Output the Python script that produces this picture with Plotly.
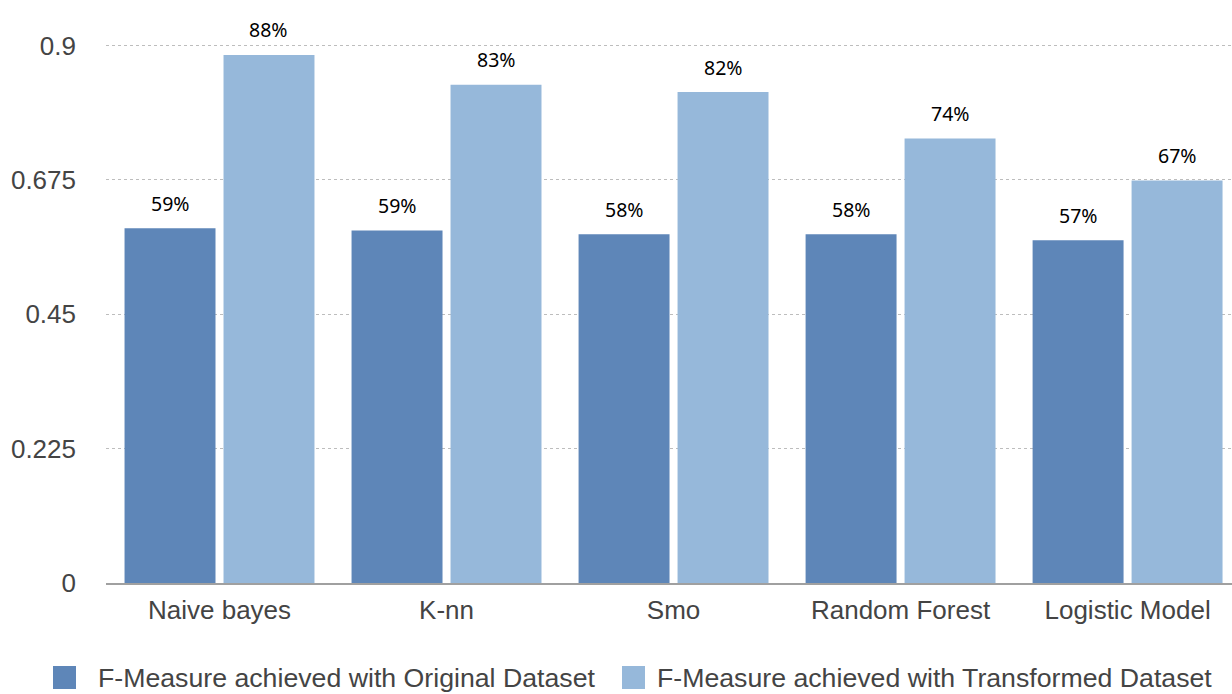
import plotly.graph_objects as go

# F-measure per classifier, original vs transformed dataset
classifiers = ["Naive bayes", "K-nn", "Smo", "Random Forest", "Logistic Model"]
f_original = [0.594, 0.590, 0.584, 0.584, 0.574]
f_transformed = [0.884, 0.834, 0.822, 0.744, 0.674]

series_names = [
    "F-Measure achieved with Original Dataset",
    "F-Measure achieved with Transformed Dataset",
]
y_ticks = [0, 0.225, 0.45, 0.675, 0.9]
y_tick_text = ["0", "0.225", "0.45", "0.675", "0.9"]

C_ORIG = "#5E86B8"
C_TRANS = "#96B8DA"
TEXT_GREY = "#444444"
FONT = "Liberation Sans, Arial, sans-serif"
LABEL_FONT = "Noto Sans, Open Sans, sans-serif"

W, H = 1232, 694
M_L, M_R, M_T, M_B = 106, 0, 0, 111
plot_w = W - M_L - M_R
plot_h = H - M_T - M_B

fig = go.Figure()
fig.add_trace(go.Bar(x=classifiers, y=f_original, name=series_names[0],
                     marker=dict(color=C_ORIG, line=dict(width=0)),
                     showlegend=False))
fig.add_trace(go.Bar(x=classifiers, y=f_transformed, name=series_names[1],
                     marker=dict(color=C_TRANS, line=dict(width=0)),
                     showlegend=False))

# value labels above each bar, shifted horizontally to the bar inside its group
x_range = [-0.5, 4.46]
px_per_cat = plot_w / (x_range[1] - x_range[0])
bargap = 0.128
bargroupgap = 0.081
slot = px_per_cat * (1 - bargap) / 2
annotations = []
for series, shift in ((f_original, -slot / 2), (f_transformed, slot / 2)):
    for cat, v in zip(classifiers, series):
        annotations.append(dict(
            x=cat, y=v, xref="x", yref="y", text=f"{round(v * 100)}%",
            showarrow=False, xshift=shift, yshift=25, yanchor="middle",
            font=dict(family=LABEL_FONT, size=19.5, color="#000000"),
        ))

# legend drawn as swatches + text beneath the plot
def px_to_paper_x(px):
    return (px - M_L) / plot_w

def py_to_paper_y(py):
    return (H - M_B - py) / plot_h

shapes = []
legend_items = [(53, 96, C_ORIG, series_names[0]), (622, 655, C_TRANS, series_names[1])]
for sx, tx, col, label in legend_items:
    shapes.append(dict(type="rect", xref="paper", yref="paper",
                       x0=px_to_paper_x(sx), x1=px_to_paper_x(sx + 23),
                       y0=py_to_paper_y(689), y1=py_to_paper_y(666),
                       fillcolor=col, line=dict(width=0)))
    annotations.append(dict(x=px_to_paper_x(tx), y=py_to_paper_y(677.5),
                            xref="paper", yref="paper", text=label,
                            showarrow=False, xanchor="left", yanchor="middle",
                            font=dict(family=FONT, size=26.7, color=TEXT_GREY)))

y_top = (H - M_B - M_T) / 597.3

fig.update_layout(
    width=W, height=H,
    margin=dict(l=M_L, r=M_R, t=M_T, b=M_B, pad=0),
    paper_bgcolor="white", plot_bgcolor="white",
    barmode="group", bargap=bargap, bargroupgap=bargroupgap,
    font=dict(family=FONT, size=26, color=TEXT_GREY),
    annotations=annotations, shapes=shapes,
    showlegend=False,
    xaxis=dict(range=x_range, showgrid=False, zeroline=False,
               showline=True, linecolor="#A0A0A0", linewidth=1.5,
               ticks="", ticklabelstandoff=3,
               tickfont=dict(family=FONT, size=26, color=TEXT_GREY)),
    yaxis=dict(range=[0, y_top], tickvals=y_ticks, ticktext=y_tick_text,
               showgrid=True, gridcolor="#BDBDBD", griddash="dot", gridwidth=1,
               zeroline=False, showline=False, ticks="",
               ticklabelstandoff=29,
               tickfont=dict(family=FONT, size=26, color=TEXT_GREY)),
)

fig.write_html("out.html")
